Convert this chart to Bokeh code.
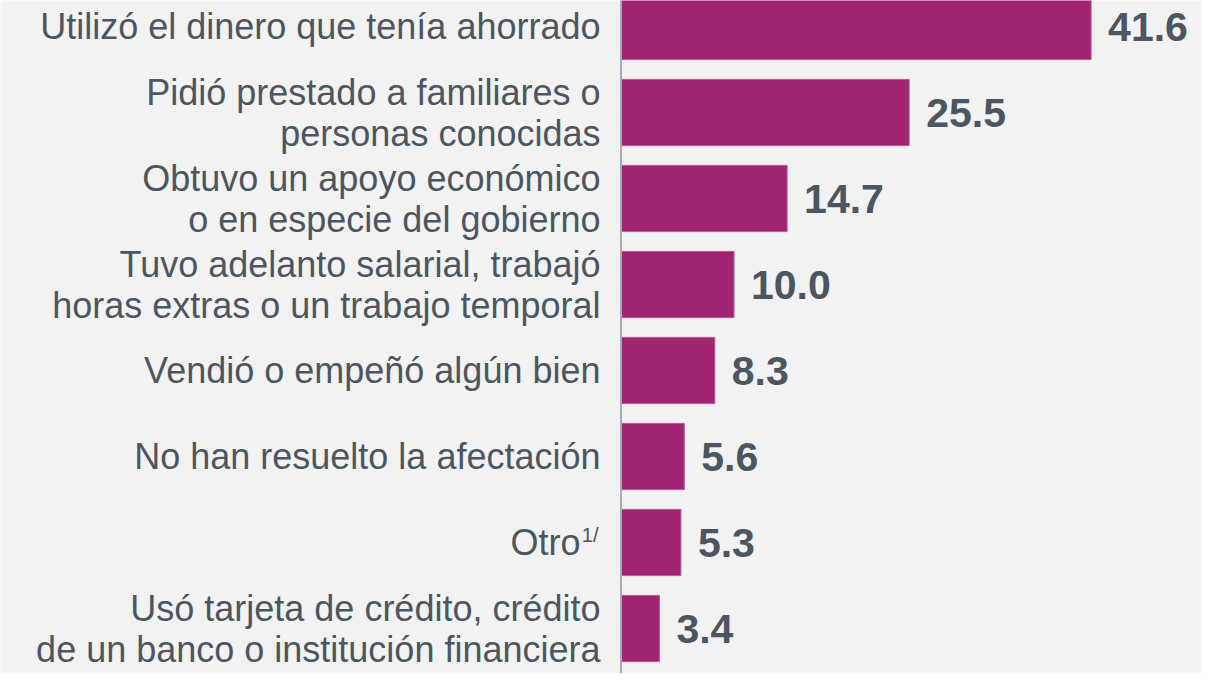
from bokeh.plotting import figure
from bokeh.models import Range1d, Span, ColumnDataSource
from bokeh.core.properties import value
from bokeh.embed import file_html
from bokeh.resources import INLINE

# ---- data ----
categories = [
    "Utilizó el dinero que tenía ahorrado",
    "Pidió prestado a familiares o\npersonas conocidas",
    "Obtuvo un apoyo económico\no en especie del gobierno",
    "Tuvo adelanto salarial, trabajó\nhoras extras o un trabajo temporal",
    "Vendió o empeñó algún bien",
    "No han resuelto la afectación",
    "Otro",
    "Usó tarjeta de crédito, crédito\nde un banco o institución financiera",
]
footnotes = ["", "", "", "", "", "", "1/", ""]
values = [41.6, 25.5, 14.7, 10.0, 8.3, 5.6, 5.3, 3.4]
value_labels = ["41.6", "25.5", "14.7", "10.0", "8.3", "5.6", "5.3", "3.4"]

# ---- styles ----
BG = "#f2f2f2"
BAR = "#a02472"
TXT = "#4b5661"
FONT = "Liberation Sans"

W, H = 1201, 673
PX_PER_UNIT = 11.3
ZERO_PX = 620.5
ROW_PX = 86.0
FIRST_ROW_PX = 26.0

x0 = -ZERO_PX / PX_PER_UNIT
x1 = (W - ZERO_PX) / PX_PER_UNIT
y_top = -FIRST_ROW_PX / ROW_PX
y_bot = (H - FIRST_ROW_PX) / ROW_PX

rows = list(range(len(categories)))
label_offsets = [-20.5 - (20.0 if f else 0.0) for f in footnotes]

src = ColumnDataSource(dict(
    y=rows, v=values, vl=value_labels, cat=categories, fn=footnotes,
    loff=label_offsets,
))

p = figure(width=W, height=H, x_range=Range1d(x0, x1), y_range=Range1d(y_bot, y_top),
           output_backend="svg", toolbar_location=None, min_border=0,
           x_axis_location=None, y_axis_location=None,
           background_fill_color=BG, border_fill_color=BG, outline_line_color=None)
p.grid.visible = False

p.hbar(y="y", left=0, right="v", height=0.77, source=src,
       fill_color=BAR, line_color="#b9579a", line_width=1)

p.add_layout(Span(location=0, dimension="height", line_color="#a3adb8", line_width=2))

# category labels
p.text(x=0, y="y", text="cat", source=src, x_offset="loff",
       text_align="right", text_baseline="middle",
       text_font=value(FONT), text_font_size="36px", text_color=TXT,
       text_line_height=1.0)

# footnote superscripts
p.text(x=0, y="y", text="fn", source=src, x_offset=-22.5, y_offset=-8,
       text_align="right", text_baseline="middle",
       text_font=value(FONT), text_font_size="20px", text_color=TXT)

# value labels
p.text(x="v", y="y", text="vl", source=src, x_offset=17,
       text_align="left", text_baseline="middle",
       text_font=value(FONT), text_font_style="bold", text_font_size="41px",
       text_color=TXT)

html = file_html(p, INLINE)
html = html.replace("<body>", '<body style="background:%s;">' % BG, 1)
open("out.html", "w").write(html)
